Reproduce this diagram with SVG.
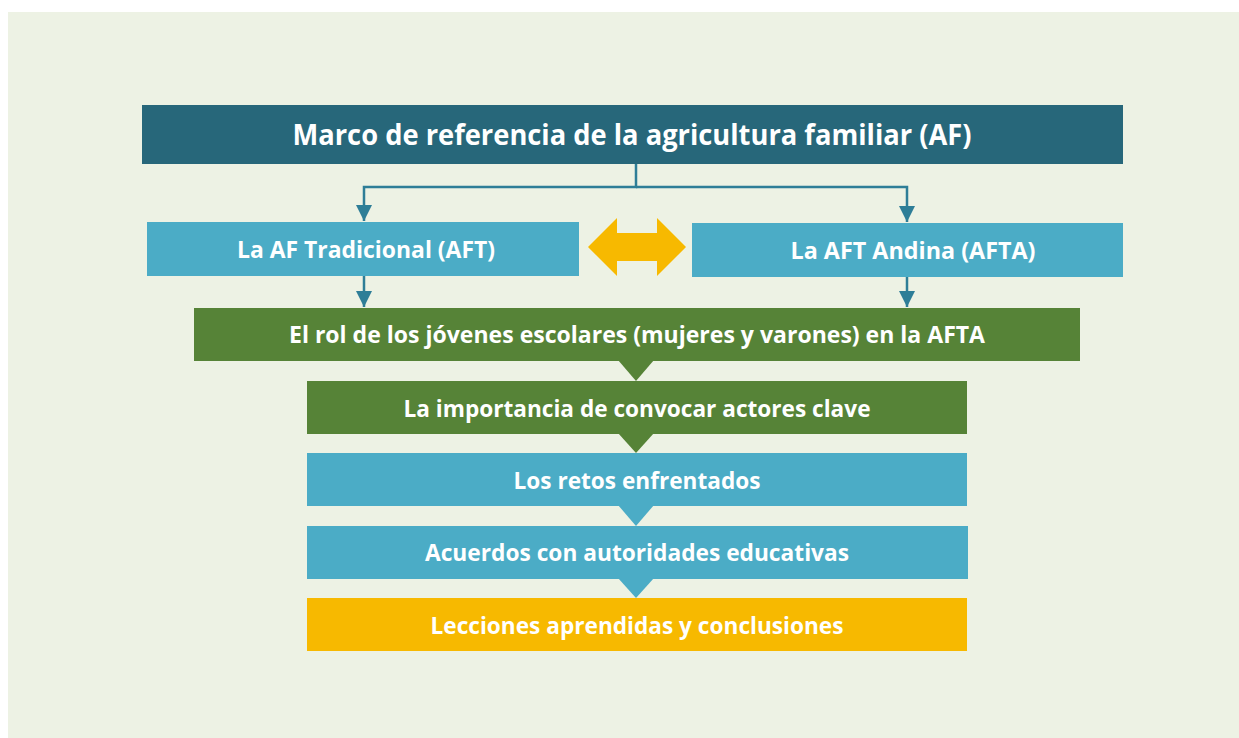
<svg xmlns="http://www.w3.org/2000/svg" width="1239" height="738" viewBox="0 0 1239 738">
  <defs>
    <style>
      .t { font-family: "Open Sans", "Liberation Sans", sans-serif; font-weight: bold; fill: #FFFFFF; text-anchor: middle; }
      .conn { fill: none; stroke: #2E7E97; stroke-width: 2.5; }
      .dark { fill: #27677A; }
      .blue { fill: #4BACC6; }
      .green { fill: #568337; }
      .gold { fill: #F7B900; }
    </style>
    <marker id="ah" viewBox="0 0 10 10" refX="10" refY="5" markerWidth="6.4" markerHeight="6.4" markerUnits="strokeWidth" orient="auto">
      <path d="M0,0 L10,5 L0,10 Z" fill="#2E7E97"/>
    </marker>
  </defs>
  <rect x="0" y="0" width="1239" height="738" fill="#FFFFFF"/>
  <rect x="8" y="12" width="1231" height="726" fill="#EDF2E4"/>

  <g id="connectors">
    <polyline class="conn" points="636,164 636,187 364,187 364,221" marker-end="url(#ah)"/>
    <polyline class="conn" points="636,187 907,187 907,222" marker-end="url(#ah)"/>
    <line class="conn" x1="364" y1="276" x2="364" y2="307" marker-end="url(#ah)"/>
    <line class="conn" x1="907" y1="277" x2="907" y2="307" marker-end="url(#ah)"/>
    <polygon class="gold" points="588,247 617,218 617,233 657,233 657,218 686,247 657,276 657,261 617,261 617,276"/>
    <polygon class="green" points="618,360 654,360 636,381"/>
    <polygon class="green" points="618,433 654,433 636,453"/>
    <polygon class="blue" points="618,505 654,505 636,526"/>
    <polygon class="blue" points="618,578 654,578 636,598"/>
  </g>

  <g id="node-marco">
    <rect class="dark" x="142" y="105" width="981" height="59"/>
    <text class="t" x="632" y="145" font-size="28" textLength="679" lengthAdjust="spacingAndGlyphs">Marco de referencia de la agricultura familiar (AF)</text>
  </g>
  <g id="node-aft">
    <rect class="blue" x="147" y="222" width="432" height="54"/>
    <text class="t" x="366" y="258" font-size="22.5" textLength="258" lengthAdjust="spacingAndGlyphs">La AF Tradicional (AFT)</text>
  </g>
  <g id="node-afta">
    <rect class="blue" x="692" y="223" width="431" height="54"/>
    <text class="t" x="913" y="259" font-size="22.5" textLength="245" lengthAdjust="spacingAndGlyphs">La AFT Andina (AFTA)</text>
  </g>
  <g id="node-rol">
    <rect class="green" x="194" y="308" width="886" height="53"/>
    <text class="t" x="637" y="343" font-size="22.5" textLength="696" lengthAdjust="spacingAndGlyphs">El rol de los jóvenes escolares (mujeres y varones) en la AFTA</text>
  </g>
  <g id="node-importancia">
    <rect class="green" x="307" y="381" width="660" height="53"/>
    <text class="t" x="637" y="417" font-size="22.5" textLength="467" lengthAdjust="spacingAndGlyphs">La importancia de convocar actores clave</text>
  </g>
  <g id="node-retos">
    <rect class="blue" x="307" y="453" width="660" height="53"/>
    <text class="t" x="637" y="489" font-size="22.5" textLength="247" lengthAdjust="spacingAndGlyphs">Los retos enfrentados</text>
  </g>
  <g id="node-acuerdos">
    <rect class="blue" x="307" y="526" width="661" height="53"/>
    <text class="t" x="637" y="561" font-size="22.5" textLength="424" lengthAdjust="spacingAndGlyphs">Acuerdos con autoridades educativas</text>
  </g>
  <g id="node-lecciones">
    <rect class="gold" x="307" y="598" width="660" height="53"/>
    <text class="t" x="637" y="634" font-size="22.5" textLength="413" lengthAdjust="spacingAndGlyphs">Lecciones aprendidas y conclusiones</text>
  </g>
</svg>
